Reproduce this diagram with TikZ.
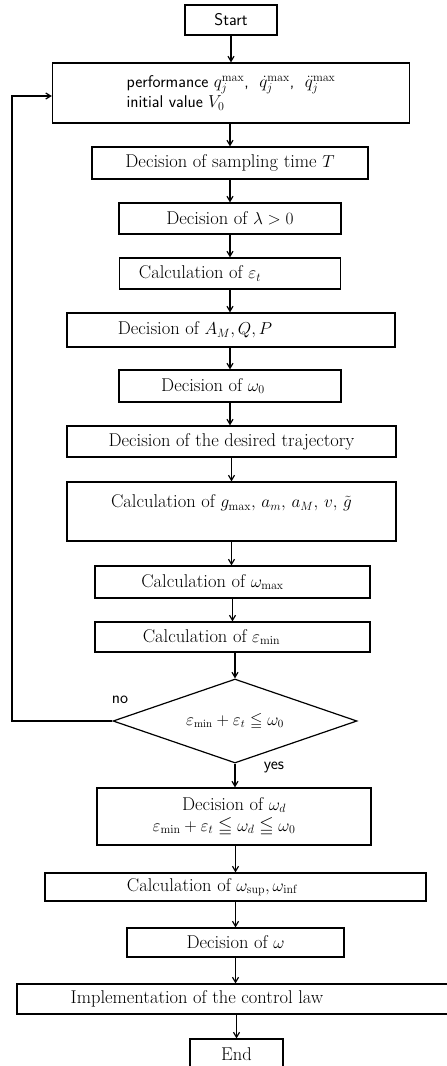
\documentclass[tikz,border=0pt]{standalone}
\usepackage{amsmath,amssymb}
\usetikzlibrary{arrows.meta,shapes.geometric}
\begin{document}
\begin{tikzpicture}[x=1pt,y=-1pt,
  every node/.style={font=\fontsize{18.5}{21}\selectfont},
  box/.style={draw,line width=1.2pt,rectangle,inner sep=0pt,align=center},
  dec/.style={draw,line width=1.2pt,diamond,aspect=2.9,inner sep=0pt,minimum width=244pt,minimum height=84pt},
  arr/.style={line width=1.2pt,-{Straight Barb[length=5pt,width=6pt]}},
  lbl/.style={font=\sffamily\fontsize{17}{19}\selectfont}]
\clip (0,0) rectangle (447,1066);
\fill[white] (0,0) rectangle (447,1066);
\node[box,minimum width=92pt,minimum height=30pt,font=\sffamily\fontsize{17}{19}\selectfont] (start) at (231,20) {Start};
\node[box,minimum width=357pt,minimum height=60pt,align=left,font=\sffamily\fontsize{17}{20}\selectfont] (perf) at (231,93)
  {performance $q_j^{\max}$, \ $\dot q_j^{\max}$, \ $\ddot q_j^{\max}$\\ initial value $V_0$};
\node[box,minimum width=276pt,minimum height=32pt] (samp) at (230,163) {Decision of sampling time $T$};
\node[box,minimum width=222pt,minimum height=31pt] (lam) at (230,218.5) {Decision of $\lambda>0$};
\node[box,minimum width=221pt,minimum height=31pt] (epst) at (230,273.5) {Calculation of $\varepsilon_t$\hspace*{60pt}};
\node[box,minimum width=328pt,minimum height=34pt] (amqp) at (231,330) {Decision of $A_M,Q,P$\hspace*{72pt}};
\node[box,minimum width=222pt,minimum height=32pt] (om0) at (230,386) {Decision of $\omega_0$\hspace*{34pt}};
\node[box,minimum width=329pt,minimum height=31pt] (traj) at (231.5,441.5) {Decision of the desired trajectory};
\node[box,minimum width=329pt,minimum height=59pt] (gmax) at (231.5,511.5) {Calculation of $g_{\max},\,a_m,\,a_M,\,v,$ $\tilde g$\\ \mbox{}};
\node[box,minimum width=275pt,minimum height=32pt] (wmax) at (232.5,582) {Calculation of $\omega_{\max}$\hspace*{40pt}};
\node[box,minimum width=275pt,minimum height=30pt] (emin) at (232.5,637) {Calculation of $\varepsilon_{\min}$\hspace*{42pt}};
\node[dec,font=\fontsize{16}{18}\selectfont] (dia) at (235,721) {$\varepsilon_{\min}+\varepsilon_t\leqq\omega_0$};
\node[box,minimum width=274pt,minimum height=57pt] (omd) at (234,816.5) {Decision of $\omega_d$\\ $\varepsilon_{\min}+\varepsilon_t\leqq\omega_d\leqq\omega_0$\hspace*{20pt}};
\node[box,minimum width=381pt,minimum height=28pt] (sup) at (235.5,887) {Calculation of $\omega_{\mathrm{sup}},\omega_{\mathrm{inf}}$\hspace*{46pt}};
\node[box,minimum width=217pt,minimum height=29pt] (decw) at (235.5,942.5) {Decision of $\omega$};
\node[box,minimum width=440pt,minimum height=30pt] (impl) at (237,999) {Implementation of the control law\hspace*{80pt}};
\node[box,minimum width=93pt,minimum height=30pt] (end) at (236.5,1054) {End};
\node[lbl] (no) at (120,700) {no};
\node[lbl] (yes) at (274,767) {yes};
\coordinate (fb) at (12,96);
\draw[arr] (start.south) -- (start.south |- perf.north);
\draw[arr] (samp.north |- perf.south) -- (samp.north);
\draw[arr] (samp.south) -- (samp.south |- lam.north);
\draw[arr] (lam.south) -- (lam.south |- epst.north);
\draw[arr] (epst.south) -- (epst.south |- amqp.north);
\draw[arr] (om0.north |- amqp.south) -- (om0.north);
\draw[arr] (om0.south) -- (om0.south |- traj.north);
\draw[arr] (traj.south) -- (traj.south |- gmax.north);
\draw[arr] (gmax.south) -- (gmax.south |- wmax.north);
\draw[arr] (wmax.south) -- (wmax.south |- emin.north);
\draw[arr] (dia.north |- emin.south) -- (dia.north);
\draw[arr] (dia.south) -- (dia.south |- omd.north);
\draw[arr] (sup.north |- omd.south) -- (sup.north);
\draw[arr] (decw.north |- sup.south) -- (decw.north);
\draw[arr] (decw.south) -- (decw.south |- impl.north);
\draw[arr] (end.north |- impl.south) -- (end.north);
\draw[arr] (dia.west) -| (fb) -- (perf.west |- fb);
\end{tikzpicture}
\end{document}
